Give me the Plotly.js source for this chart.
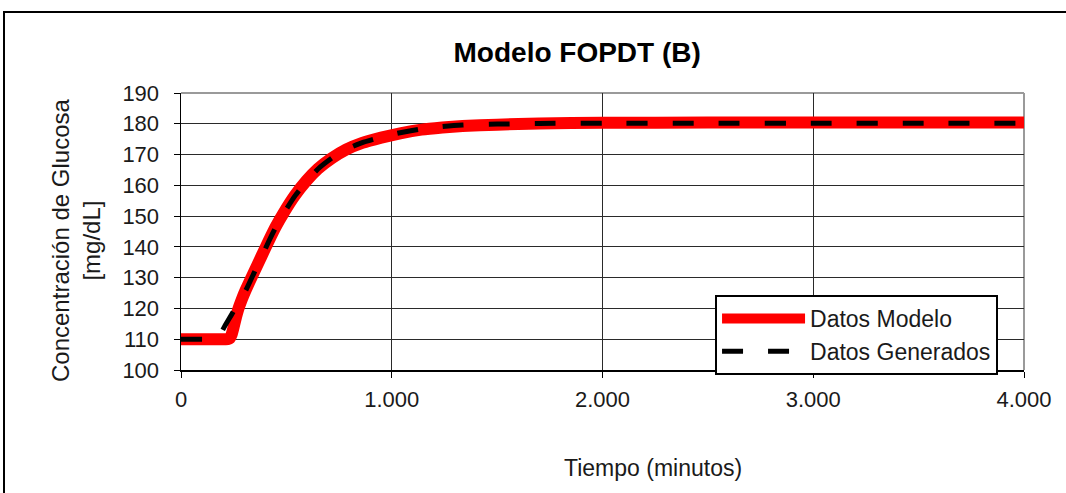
<!DOCTYPE html>
<html>
<head>
<meta charset="utf-8">
<script src="https://cdn.plot.ly/plotly-3.0.1.min.js"></script>
<style>html,body{margin:0;padding:0;background:#fff;}#chart{width:1066px;height:493px;}</style>
</head>
<body>
<div id="chart"></div>
<script>
// Datos Modelo (red)
const modeloT = [0, 100, 200, 222, 232, 240, 248, 258, 272, 290, 307, 345, 382, 415, 449, 490, 540, 595, 650, 715, 783, 860, 950, 1040, 1141, 1240, 1336, 1500, 1700, 2000, 2500, 3000, 3500, 4000];
const modeloY = [110, 110, 110, 110, 110.3, 111.5, 113.5, 116.3, 119.8, 123.2, 126, 131.6, 137, 141.8, 146.5, 151.4, 156.7, 161.5, 165.4, 168.8, 171.6, 173.8, 175.5, 176.9, 178.1, 178.8, 179.3, 179.7, 180.1, 180.3, 180.4, 180.4, 180.4, 180.4];
// Datos Generados (black dashed)
const generadosT = [0, 50, 100, 150, 180, 212, 240, 270, 307, 345, 382, 415, 449, 490, 540, 595, 650, 715, 783, 860, 950, 1040, 1141, 1240, 1336, 1500, 1700, 2000, 2500, 3000, 3500, 4000];
const generadosY = [110, 110, 110, 110, 111, 114.8, 118, 121.6, 125.8, 131.3, 136.7, 141.6, 146.3, 151.2, 156.5, 161.3, 165.3, 168.8, 171.7, 173.9, 175.7, 177.1, 178.3, 179.1, 179.6, 179.9, 180.1, 180.2, 180.2, 180.2, 180.2, 180.2];

const xTickVals = [0, 1000, 2000, 3000, 4000];
const xTickText = ["0", "1.000", "2.000", "3.000", "4.000"];
const yTickVals = [100, 110, 120, 130, 140, 150, 160, 170, 180, 190];

const FONT = "Liberation Sans, Arial, sans-serif";

const traces = [
  {x: modeloT, y: modeloY, name: "Datos Modelo", type: "scatter", mode: "lines",
   line: {color: "#ff0000", width: 12, shape: "spline", smoothing: 0.4}},
  {x: generadosT, y: generadosY, name: "Datos Generados", type: "scatter", mode: "lines",
   line: {color: "#000000", width: 5, dash: "21px,25px", shape: "spline", smoothing: 0.4}}
];

const layout = {
  width: 1066, height: 493,
  margin: {l: 181, r: 42, t: 93, b: 123, pad: 0},
  paper_bgcolor: "#ffffff", plot_bgcolor: "#ffffff",
  font: {family: FONT, size: 22, color: "#1a1a1a"},
  title: {text: "<b>Modelo FOPDT (B)</b>", font: {family: FONT, size: 28, color: "#000"},
          x: 0.47, xref: "paper", y: 0.8945, yref: "container", xanchor: "center", yanchor: "middle"},
  showlegend: true,
  legend: {x: 0.6335, y: 0.271, xanchor: "left", yanchor: "top",
           bgcolor: "#ffffff", bordercolor: "#000", borderwidth: 2,
           font: {family: FONT, size: 23, color: "#1a1a1a"},
           itemwidth: 83, tracegroupgap: 0},
  xaxis: {range: [0, 4000], tickvals: xTickVals, ticktext: xTickText,
          showgrid: true, gridcolor: "#2a2a2a", gridwidth: 1,
          showline: true, linecolor: "#000", linewidth: 1.5,
          ticks: "outside", ticklen: 6, tickcolor: "#000",
          ticklabelstandoff: 3, zeroline: false, fixedrange: true,
          tickfont: {family: FONT, size: 22, color: "#1a1a1a"}},
  yaxis: {range: [100, 190], tickvals: yTickVals,
          showgrid: true, gridcolor: "#2a2a2a", gridwidth: 1,
          showline: true, linecolor: "#000", linewidth: 1.5,
          ticks: "outside", ticklen: 6, tickcolor: "#000",
          ticklabelstandoff: 10, zeroline: false, fixedrange: true,
          tickfont: {family: FONT, size: 22, color: "#1a1a1a"}},
  annotations: [
    {text: "Concentración de Glucosa<br>[mg/dL]", xref: "paper", yref: "paper",
     x: (76 - 181) / 843, y: (370 - 241) / 277, xanchor: "center", yanchor: "middle",
     textangle: -90, showarrow: false, font: {family: FONT, size: 24, color: "#1a1a1a"}},
    {text: "Tiempo (minutos)", xref: "paper", yref: "paper",
     x: (653 - 181) / 843, y: (370 - 468) / 277, xanchor: "center", yanchor: "middle",
     showarrow: false, font: {family: FONT, size: 23, color: "#1a1a1a"}}
  ],
  shapes: [
    {type: "line", xref: "paper", yref: "paper", x0: 0, x1: 1, y0: 1, y1: 1,
     line: {color: "#9a9a9a", width: 2}, layer: "between"},
    {type: "line", xref: "paper", yref: "paper", x0: 1, x1: 1, y0: 0, y1: 1,
     line: {color: "#9a9a9a", width: 2}, layer: "between"},
    {type: "rect", xref: "paper", yref: "paper",
     x0: (4 - 181) / 843, x1: 1.2, y0: -0.6, y1: (370 - 12) / 277,
     line: {color: "#000", width: 2}, fillcolor: "rgba(0,0,0,0)", layer: "below"}
  ]
};

Plotly.newPlot("chart", traces, layout, {displayModeBar: false, staticPlot: true});
</script>
</body>
</html>
